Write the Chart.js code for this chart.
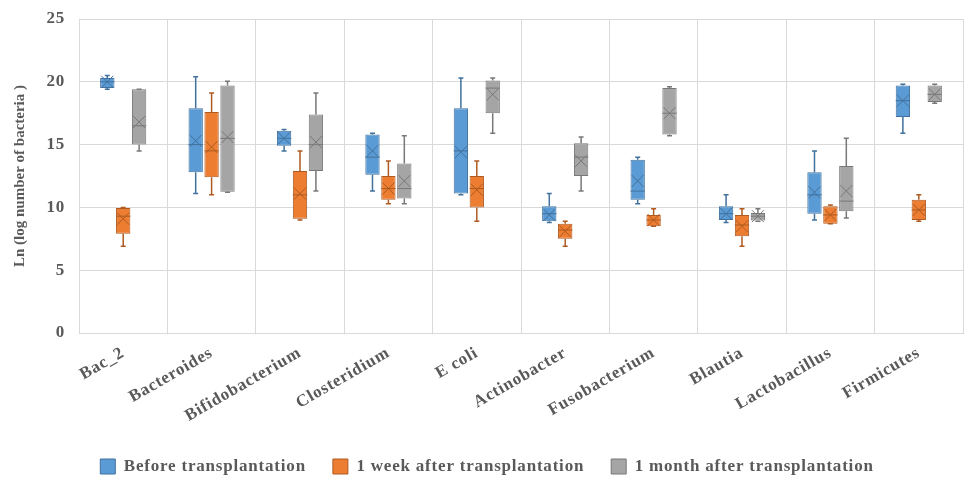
<!DOCTYPE html>
<html>
<head>
<meta charset="utf-8">
<script src="https://cdn.jsdelivr.net/npm/chart.js@4.4.1/dist/chart.umd.min.js"></script>
<style>
    html, body { margin: 0; padding: 0; background: #fff; }
    #wrap { width: 966px; height: 480px; }
</style>
</head>
<body>
<div id="wrap"><canvas id="chart-box"></canvas></div>
<script>
// ===== 데이터 =====
const categories = ['Bac_2', 'Bacteroides', 'Bifidobacterium', 'Closteridium', 'E coli',
    'Actinobacter', 'Fusobacterium', 'Blautia', 'Lactobacillus', 'Firmicutes'];
const yTicks = [0, 5, 10, 15, 20, 25];

// Before transplantation
const beforeMin = [19.4, 11.1, 14.5, 11.3, 11.0, 8.8, 10.3, 8.8, 9.0, 15.9];
const beforeQ1 = [19.5, 12.8, 14.9, 12.6, 11.1, 8.9, 10.6, 9.0, 9.5, 17.2];
const beforeMedian = [20.0, 15.0, 15.5, 14.0, 14.5, 9.5, 11.3, 9.5, 11.0, 18.5];
const beforeQ3 = [20.3, 17.9, 16.1, 15.8, 17.9, 10.1, 13.8, 10.1, 12.8, 19.7];
const beforeMax = [20.5, 20.4, 16.2, 15.9, 20.3, 11.1, 14.0, 11.0, 14.5, 19.8];
const beforeMean = [20.0, 15.3, 15.5, 14.5, 14.4, 9.4, 12.1, 9.5, 11.2, 18.5];

// 1 week after transplantation
const weekMin = [6.9, 11.0, 9.0, 10.3, 8.9, 6.9, 8.5, 6.9, 8.7, 8.9];
const weekQ1 = [7.9, 12.4, 9.1, 10.6, 10.0, 7.5, 8.5, 7.7, 8.7, 9.0];
const weekMedian = [9.3, 14.5, 11.0, 11.5, 11.5, 8.2, 9.0, 8.6, 9.4, 9.8];
const weekQ3 = [9.95, 17.6, 12.9, 12.5, 12.5, 8.7, 9.4, 9.4, 10.1, 10.6];
const weekMax = [10.0, 19.1, 14.5, 13.7, 13.7, 8.9, 9.9, 9.9, 10.2, 11.0];
const weekMean = [9.1, 14.8, 11.1, 11.5, 11.4, 8.1, 9.0, 8.5, 9.4, 9.8];

// 1 month after transplantation
const monthMin = [14.5, 11.2, 11.3, 10.3, 15.9, 11.3, 15.7, 8.9, 9.15, 18.3];
const monthQ1 = [15.0, 11.25, 12.9, 10.7, 17.5, 12.5, 15.8, 8.95, 9.7, 18.4];
const monthMedian = [16.5, 15.5, 15.0, 11.5, 19.5, 14.0, 17.5, 9.3, 10.5, 19.0];
const monthQ3 = [19.4, 19.7, 17.4, 13.5, 20.1, 15.1, 19.5, 9.55, 13.3, 19.7];
const monthMax = [19.4, 20.05, 19.1, 15.7, 20.3, 15.6, 19.6, 9.9, 15.5, 19.8];
const monthMean = [16.8, 15.6, 15.2, 12.1, 19.0, 13.7, 17.5, 9.3, 11.3, 19.0];

const FONT = "'Liberation Serif', 'DejaVu Serif', serif";
const TEXT = '#595959';
const SPACING = '0.8px';

// ===== 박스 데이터셋 =====
function boxDataset(label, q1, q3, mn, mx, med, mean, fill, line) {
    return {
        label: label,
        data: q1.map(function (v, i) { return [v, q3[i]]; }),
        backgroundColor: fill,
        borderColor: line,
        borderWidth: 1,
        borderSkipped: false,
        stats: { min: mn, max: mx, median: med, mean: mean }
    };
}

// 글자 간격 (원본의 가로로 늘어난 글씨 흉내)
const letterSpacing = {
    id: 'letterSpacing',
    beforeLayout: function (chart) { chart.ctx.letterSpacing = SPACING; },
    beforeDraw: function (chart) { chart.ctx.letterSpacing = SPACING; }
};

// 수염, 중앙값, 평균(X) 그리기
const boxExtras = {
    id: 'boxExtras',
    afterDatasetsDraw: function (chart) {
        const ctx = chart.ctx;
        const y = chart.scales.y;
        chart.data.datasets.forEach(function (ds, di) {
            const meta = chart.getDatasetMeta(di);
            if (meta.hidden) return;
            const st = ds.stats;
            meta.data.forEach(function (el, i) {
                const cx = el.x;
                const hw = el.width / 2;
                const pMin = y.getPixelForValue(st.min[i]);
                const pMax = y.getPixelForValue(st.max[i]);
                const pQ1 = y.getPixelForValue(ds.data[i][0]);
                const pQ3 = y.getPixelForValue(ds.data[i][1]);
                const pMed = y.getPixelForValue(st.median[i]);
                const pMean = y.getPixelForValue(st.mean[i]);
                ctx.save();
                ctx.strokeStyle = ds.borderColor;
                ctx.lineWidth = 1.5;
                ctx.beginPath();
                ctx.moveTo(cx, pQ3); ctx.lineTo(cx, pMax);
                ctx.moveTo(cx - 2.5, pMax); ctx.lineTo(cx + 2.5, pMax);
                ctx.moveTo(cx, pQ1); ctx.lineTo(cx, pMin);
                ctx.moveTo(cx - 2.5, pMin); ctx.lineTo(cx + 2.5, pMin);
                ctx.stroke();
                ctx.lineWidth = 1;
                ctx.beginPath();
                ctx.moveTo(cx - hw, pMed); ctx.lineTo(cx + hw, pMed);
                ctx.stroke();
                const m = Math.min(hw - 1, 6);
                ctx.beginPath();
                ctx.moveTo(cx - m, pMean - m); ctx.lineTo(cx + m, pMean + m);
                ctx.moveTo(cx - m, pMean + m); ctx.lineTo(cx + m, pMean - m);
                ctx.stroke();
                ctx.restore();
            });
        });
    }
};

const chart = new Chart(document.getElementById('chart-box'), {
    type: 'bar',
    data: {
        labels: categories,
        datasets: [
            boxDataset('Before transplantation', beforeQ1, beforeQ3, beforeMin, beforeMax, beforeMedian, beforeMean, '#5B9BD5', '#41719C'),
            boxDataset('1 week after transplantation', weekQ1, weekQ3, weekMin, weekMax, weekMedian, weekMean, '#ED7D31', '#AE5A21'),
            boxDataset('1 month after transplantation', monthQ1, monthQ3, monthMin, monthMax, monthMedian, monthMean, '#A5A5A5', '#787878')
        ]
    },
    options: {
        responsive: true,
        maintainAspectRatio: false,
        animation: false,
        layout: { padding: { top: 19, right: 3, left: 11, bottom: -5 } },
        datasets: { bar: { categoryPercentage: 0.54, barPercentage: 0.9 } },
        plugins: {
            tooltip: { enabled: false },
            legend: {
                position: 'bottom',
                labels: {
                    font: { family: FONT, size: 17, weight: 'bold' },
                    color: TEXT,
                    boxWidth: 15,
                    boxHeight: 15,
                    padding: 27
                }
            }
        },
        scales: {
            x: {
                afterFit: function (s) { s.height = 98; },
                grid: { color: '#d9d9d9', offset: true, drawTicks: false },
                border: { color: '#d9d9d9' },
                ticks: {
                    font: { family: FONT, size: 17, weight: 'bold' },
                    color: TEXT,
                    maxRotation: 30,
                    minRotation: 30,
                    padding: 10
                }
            },
            y: {
                min: 0,
                max: 25,
                afterBuildTicks: function (s) { s.ticks = yTicks.map(function (v) { return { value: v }; }); },
                afterFit: function (s) { s.width = 68; s.paddingTop = 0; s.paddingBottom = 0; },
                grid: { color: '#d9d9d9', drawTicks: false },
                border: { display: false },
                ticks: {
                    font: { family: FONT, size: 17, weight: 'bold' },
                    color: TEXT,
                    padding: 14
                },
                title: {
                    display: true,
                    text: 'Ln (log number of bacteria )',
                    font: { family: FONT, size: 15, weight: 'bold' },
                    color: TEXT,
                    padding: 0
                }
            }
        }
    },
    plugins: [letterSpacing, boxExtras]
});

// y축 제목은 글자 간격 없이
const yScale = chart.scales.y;
const drawYTitle = yScale.drawTitle.bind(yScale);
yScale.drawTitle = function () {
    const c = chart.ctx;
    const prev = c.letterSpacing;
    c.letterSpacing = '0px';
    drawYTitle();
    c.letterSpacing = prev;
};
chart.draw();
</script>
</body>
</html>
